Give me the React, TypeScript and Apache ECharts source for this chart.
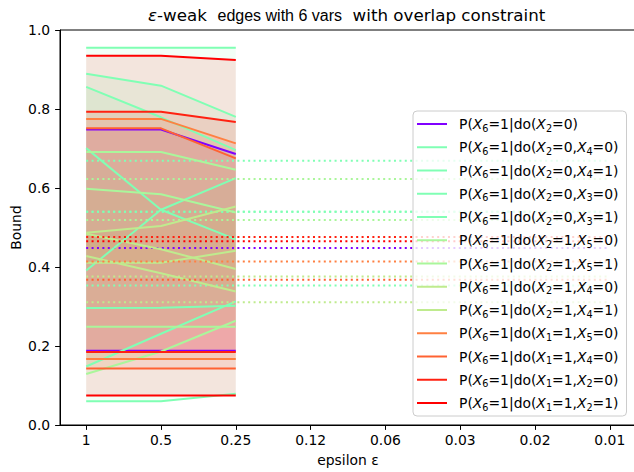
import React, { useEffect, useRef } from 'react';
import * as echarts from 'echarts';

const F = 'DejaVu Sans';

const xLabels = ['1', '0.5', '0.25', '0.12', '0.06', '0.03', '0.02', '0.01'];
const xIdx = [0, 1, 2];

const seriesNames = [
  'P(X6=1|do(X2=0)',
  'P(X6=1|do(X2=0,X4=0)',
  'P(X6=1|do(X2=0,X4=1)',
  'P(X6=1|do(X2=0,X3=0)',
  'P(X6=1|do(X2=0,X3=1)',
  'P(X6=1|do(X2=1,X5=0)',
  'P(X6=1|do(X2=1,X5=1)',
  'P(X6=1|do(X2=1,X4=0)',
  'P(X6=1|do(X2=1,X4=1)',
  'P(X6=1|do(X1=1,X5=0)',
  'P(X6=1|do(X1=1,X4=0)',
  'P(X6=1|do(X1=1,X2=0)',
  'P(X6=1|do(X1=1,X2=1)',
];

const colors = [
  '#8000ff', '#80ffb4', '#80ffb4', '#80ffb4', '#80ffb4',
  '#aaf69b', '#aaf69b', '#bfeb8e', '#bfeb8e',
  '#ff8042', '#ff6232', '#ff2111', '#ff0000',
];

const upperBound = [
  [0.748, 0.748, 0.686],
  [0.955, 0.955, 0.955],
  [0.889, 0.859, 0.780],
  [0.856, 0.779, 0.696],
  [0.701, 0.545, 0.470],
  [0.691, 0.691, 0.646],
  [0.598, 0.584, 0.538],
  [0.487, 0.504, 0.553],
  [0.484, 0.445, 0.395],
  [0.775, 0.775, 0.713],
  [0.751, 0.751, 0.675],
  [0.793, 0.793, 0.767],
  [0.935, 0.935, 0.924],
];

const lowerBound = [
  [0.188, 0.188, 0.188],
  [0.060, 0.060, 0.079],
  [0.148, 0.231, 0.313],
  [0.296, 0.297, 0.302],
  [0.391, 0.545, 0.625],
  [0.129, 0.186, 0.264],
  [0.249, 0.249, 0.249],
  [0.428, 0.384, 0.338],
  [0.411, 0.411, 0.441],
  [0.167, 0.167, 0.167],
  [0.143, 0.143, 0.143],
  [0.185, 0.185, 0.185],
  [0.075, 0.075, 0.075],
];

const dottedValue = [0.448, 0.353, 0.540, 0.669, 0.540, 0.623, 0.519, 0.376, 0.311, 0.414, 0.368, 0.476, 0.465];

function rgba(hex: string, a: number) {
  const r = parseInt(hex.slice(1, 3), 16);
  const g = parseInt(hex.slice(3, 5), 16);
  const b = parseInt(hex.slice(5, 7), 16);
  return `rgba(${r},${g},${b},${a})`;
}

function legendRich(name: string) {
  const body = name.replace(/X(\d)/g, '}{i|X}{s|$1}{n|');
  return '{p| }{n|' + body + '}';
}

export default function App() {
  const ref = useRef<HTMLDivElement>(null);
  useEffect(() => {
    const chart = echarts.init(ref.current!, null, { renderer: 'svg' });
    const series: any[] = [];
    series.push({
      type: 'custom',
      name: '_bands',
      z: 1,
      silent: true,
      data: upperBound.map((u) => [0, u[0]]),
      renderItem: (params: any, api: any) => {
        const i = params.dataIndex;
        const pts = xIdx
          .map((k) => api.coord([k, upperBound[i][k]]))
          .concat(xIdx.slice().reverse().map((k) => api.coord([k, lowerBound[i][k]])));
        return {
          type: 'polygon',
          shape: { points: pts },
          style: { fill: rgba(colors[i], 0.1), stroke: 'none' },
        };
      },
    });
    seriesNames.forEach((name, i) => {
      series.push({
        type: 'line',
        name,
        z: 3,
        symbol: 'none',
        silent: true,
        color: colors[i],
        lineStyle: { width: 2, color: colors[i] },
        data: xIdx.map((k) => [k, upperBound[i][k]]),
      });
      series.push({
        type: 'line',
        name: '_lo' + i,
        z: 3,
        symbol: 'none',
        silent: true,
        color: colors[i],
        lineStyle: { width: 2, color: colors[i] },
        data: xIdx.map((k) => [k, lowerBound[i][k]]),
      });
      series.push({
        type: 'line',
        name: '_dot' + i,
        z: 3,
        symbol: 'none',
        silent: true,
        color: colors[i],
        lineStyle: { width: 2, color: colors[i], type: [2, 3.4], cap: 'butt' },
        data: [[0, dottedValue[i]], [7, dottedValue[i]]],
      });
    });

    const option: any = {
      animation: false,
      backgroundColor: '#ffffff',
      grid: {
        left: 60,
        top: 30,
        width: 576,
        height: 395,
        show: true,
        borderColor: '#000',
        borderWidth: 1,
        backgroundColor: 'transparent',
        outerBoundsMode: 'none',
        containLabel: false,
      },
      graphic: [
        {
          type: 'text',
          x: 346.7,
          y: 15,
          z: 10,
          style: {
            text: '{e|ε}{n|-weak  }{m|edges with 6 vars}{n|  with overlap constraint}',
            align: 'center',
            verticalAlign: 'middle',
            fill: '#000',
            rich: {
              e: { fontFamily: F, fontStyle: 'italic', fontSize: 16.7, fill: '#000' },
              n: { fontFamily: F, fontSize: 16.7, fill: '#000' },
              m: { fontFamily: 'Liberation Sans', fontSize: 16, fill: '#000' },
            },
          },
        },
      ],
      xAxis: {
        type: 'value',
        min: -0.35,
        max: 7.35,
        splitLine: { show: false },
        axisLine: { show: true, onZero: false, lineStyle: { color: '#000', width: 1 } },
        axisTick: {
          show: true,
          length: 4.9,
          customValues: [0, 1, 2, 3, 4, 5, 6, 7],
          lineStyle: { color: '#000', width: 1 },
        },
        axisLabel: {
          customValues: [0, 1, 2, 3, 4, 5, 6, 7],
          formatter: (v: number) => xLabels[Math.round(v)],
          margin: 7.5,
          color: '#000',
          fontFamily: F,
          fontSize: 13.9,
        },
        name: 'epsilon ε',
        nameLocation: 'middle',
        nameGap: 28,
        nameMoveOverlap: false,
        nameTextStyle: { color: '#000', fontFamily: F, fontSize: 13.9 },
      },
      yAxis: {
        type: 'value',
        min: 0,
        max: 1,
        interval: 0.2,
        splitLine: { show: false },
        axisLine: { show: true, onZero: false, lineStyle: { color: '#000', width: 1 } },
        axisTick: { show: true, length: 4.9, lineStyle: { color: '#000', width: 1 } },
        axisLabel: {
          formatter: (v: number) => v.toFixed(1),
          margin: 9.8,
          color: '#000',
          fontFamily: F,
          fontSize: 13.9,
        },
        name: 'Bound',
        nameLocation: 'middle',
        nameGap: 37,
        nameMoveOverlap: false,
        nameTextStyle: { color: '#000', fontFamily: F, fontSize: 13.9 },
      },
      legend: {
        data: seriesNames,
        orient: 'vertical',
        left: 413,
        top: 111,
        padding: [4, 8, 4, 4],
        icon: 'rect',
        itemWidth: 30,
        itemHeight: 2,
        itemGap: 5.25,
        selectedMode: false,
        backgroundColor: 'rgba(255,255,255,0.8)',
        borderColor: '#cccccc',
        borderWidth: 1,
        borderRadius: 4,
        z: 10,
        formatter: legendRich,
        textStyle: {
          fontFamily: F,
          fontSize: 13.9,
          color: '#000',
          rich: {
            p: { width: 7, lineHeight: 16 },
            n: { fontFamily: F, fontSize: 13.9, lineHeight: 16, color: '#000' },
            i: { fontFamily: F, fontStyle: 'italic', fontSize: 13.9, lineHeight: 16, color: '#000' },
            s: { fontFamily: F, fontSize: 9.7, lineHeight: 10, padding: [8, 0, 0, 0], color: '#000' },
          },
        },
      },
      series,
    };
    chart.setOption(option);
    return () => chart.dispose();
  }, []);
  return <div ref={ref} style={{ position: 'fixed', left: 0, top: 0, width: 634, height: 472 }} />;
}
